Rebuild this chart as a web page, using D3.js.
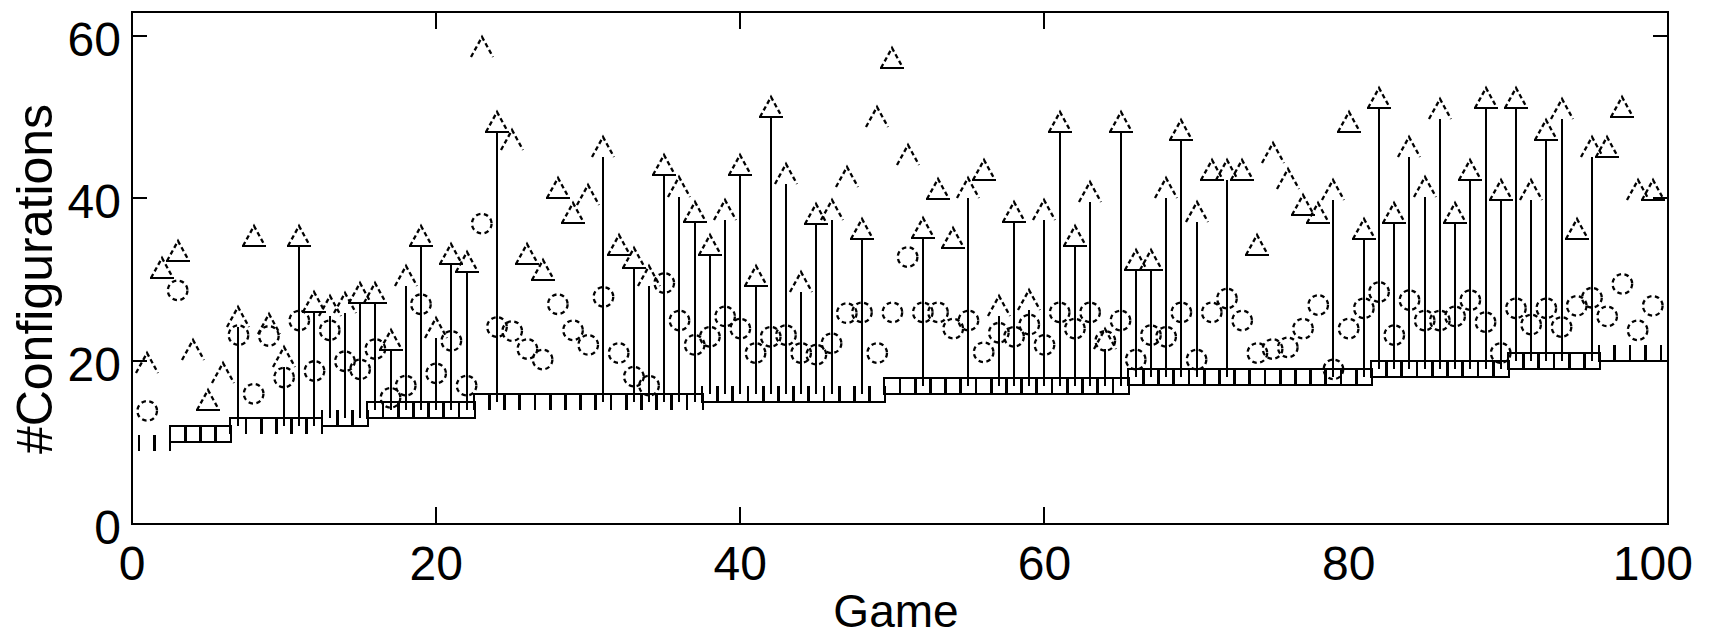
<!DOCTYPE html>
<html><head><meta charset="utf-8">
<script src="https://cdn.jsdelivr.net/npm/d3@7"></script>
<style>body{margin:0;background:#fff}svg{display:block}</style>
</head><body>
<svg id="chart" width="1711" height="637"></svg>
<script>
// ---------------- data ----------------
const games = d3.range(1, 101);

// maximum #configurations per game (triangle level)
const maxVals = [
 18.5,30.2,32.3,20.1,14.0,17.3,24.2,34.1,23.3,19.3,
 34.1,26.1,25.5,25.9,27.1,27.1,21.4,29.2,34.1,22.8,
 32.0,31.0,57.4,48.2,46.0,32.0,30.0,40.0,37.0,39.2,
 45.1,33.0,31.4,29.2,42.9,40.2,37.1,33.0,37.3,42.9,
 29.2,50.0,41.8,28.5,36.9,37.3,41.4,35.0,48.8,56.0,
 44.1,35.1,39.9,33.9,40.0,42.3,25.5,37.1,26.3,37.3,
 48.2,34.1,39.6,21.5,48.2,31.2,31.2,40.0,47.2,37.1,
 42.3,42.3,42.3,33.0,44.3,41.2,38.0,37.0,39.8,48.2,
 35.0,51.1,37.0,45.1,40.2,49.8,37.0,42.3,51.1,39.8,
 51.1,39.8,47.2,49.8,35.0,45.1,45.1,50.0,39.8,39.8];

// series membership of the maximum marker: 1 = series A (closed), 0 = series B (open)
const maxSeriesA = [
 0,1,1,0,1,0,0,1,0,0, 1,1,0,0,1,1,1,0,1,0,
 1,1,0,1,0,1,1,1,1,0, 0,1,1,0,1,0,1,1,0,1,
 1,1,0,0,1,0,0,1,0,1, 0,1,1,1,0,1,0,1,0,0,
 1,1,0,0,1,1,1,0,1,0, 1,0,1,1,0,0,1,1,0,1,
 1,1,1,0,0,0,1,1,1,1, 1,0,1,0,1,0,1,1,0,1];

// whether the range (min -> max) is shown for that game
const hasRange = [
 0,0,0,0,0,0,1,0,0,1, 1,1,1,1,1,1,1,1,1,1,
 1,1,0,1,0,0,0,0,0,0, 1,0,1,1,1,1,1,1,1,1,
 1,1,1,1,1,1,0,1,0,0, 0,1,0,0,1,0,1,1,1,1,
 1,1,1,1,1,1,1,1,1,1, 0,1,0,0,0,0,0,0,1,0,
 1,1,1,1,1,1,1,1,1,1, 1,1,1,1,0,1,0,0,0,0];

// mean #configurations per game (circle), null = not visible
const meanVals = [
 13.9,null,28.7,null,null,null,23.2,16.0,23.1,18.0,
 25.0,18.8,23.8,20.0,19.0,21.5,15.5,17.0,27.0,18.5,
 22.5,17.0,36.9,24.2,23.7,21.5,20.2,27.0,23.8,22.0,
 27.9,21.0,18.1,17.0,29.6,25.0,22.0,23.0,25.5,24.0,
 21.0,23.0,23.2,21.0,20.8,22.2,25.9,26.0,21.0,26.0,
 32.8,26.0,26.0,24.0,25.0,21.1,23.5,23.0,24.5,22.0,
 26.0,24.0,26.0,22.5,25.0,20.2,23.2,23.0,26.0,20.2,
 26.0,27.7,25.0,21.0,21.5,21.7,24.0,26.9,19.0,24.0,
 26.5,28.5,23.2,27.5,25.0,25.0,25.5,27.5,24.8,21.0,
 26.5,24.5,26.5,24.2,26.8,27.8,25.5,29.5,23.8,26.8];

// minimum #configurations per game (square level)
const minVals = [
 10,10,11,11,11,11,12,12,12,12,
 12,12,13,13,13,14,14,14,14,14,
 14,14,15,15,15,15,15,15,15,15,
 15,15,15,15,15,15,15,16,16,16,
 16,16,16,16,16,16,16,16,16,17,
 17,17,17,17,17,17,17,17,17,17,
 17,17,17,17,17,18,18,18,18,18,
 18,18,18,18,18,18,18,18,18,18,
 18,19,19,19,19,19,19,19,19,19,
 20,20,20,20,20,20,21,21,21,21];

// which part of the minimum marker outline is visible
// b = whole, n = open below, u = open above, i = sides only
const minKind = [
 'i','i','b','b','b','b','n','n','n','n',
 'n','n','u','u','u','b','b','b','b','b',
 'b','b','n','n','n','n','n','n','n','n',
 'n','n','n','n','n','n','n','u','u','u',
 'u','u','u','u','u','u','u','u','u','b',
 'b','b','b','b','b','b','b','b','b','b',
 'b','b','b','b','b','b','b','b','b','b',
 'b','b','b','b','b','b','b','b','b','b',
 'b','b','b','b','b','b','b','b','b','b',
 'b','b','b','b','b','b','u','u','u','u'];

const xTickLabels = [0, 20, 40, 60, 80, 100];
const xTickMarks = [20, 40, 60];
const yTickLabels = [0, 20, 40, 60];
const yTickMarks = [20, 40, 60];

// ---------------- drawing ----------------
const svg = d3.select('#chart');
const L = 132, R = 1668, T = 12, B = 524;
const x = d3.scaleLinear().domain([0, 101]).range([L, R]);
const y = d3.scaleLinear().domain([0, 62.9]).range([B, T]);
const px = v => Math.round(x(v));
const py = v => Math.round(y(v));

const rows = games.map((g, i) => ({
  g, max: maxVals[i], a: maxSeriesA[i], bar: hasRange[i],
  mean: meanVals[i], min: minVals[i], kind: minKind[i]
}));

const plot = svg.append('g');
const H = 8; // half size of square marker

function sqPath(cx, cy, k) {
  const l = cx - H, r = cx + H, t = cy - H, b = cy + H;
  if (k === 'b') return `M${l},${t}H${r}V${b}H${l}Z`;
  if (k === 'n') return `M${l},${b}V${t}H${r}V${b}`;
  if (k === 'u') return `M${l},${t}V${b}H${r}V${t}`;
  return `M${l},${t}V${b}M${r},${t}V${b}`;
}

// min markers
plot.append('g').selectAll('path').data(rows).join('path')
  .attr('d', d => sqPath(px(d.g), py(d.min), d.kind))
  .attr('fill', 'none').attr('stroke', '#000').attr('stroke-width', 2)
  .attr('shape-rendering', 'crispEdges');

// range lines
plot.append('g').selectAll('line').data(rows.filter(d => d.bar)).join('line')
  .attr('x1', d => px(d.g)).attr('x2', d => px(d.g))
  .attr('y1', d => py(d.min)).attr('y2', d => py(d.max))
  .attr('stroke', '#000').attr('stroke-width', 2)
  .attr('shape-rendering', 'crispEdges');

// mean markers
plot.append('g').selectAll('circle').data(rows.filter(d => d.mean != null)).join('circle')
  .attr('cx', d => x(d.g)).attr('cy', d => y(d.mean)).attr('r', 9.8)
  .attr('fill', 'none').attr('stroke', '#000').attr('stroke-width', 2.3)
  .attr('stroke-dasharray', '4.5 3.5');

// max markers: dashed sides
const TW = 11, TH = 20;
plot.append('g').selectAll('path').data(rows).join('path')
  .attr('d', d => {
    const cx = px(d.g), by = py(d.max);
    return `M${cx - TW},${by}L${cx},${by - TH}L${cx + TW},${by}`;
  })
  .attr('fill', 'none').attr('stroke', '#000').attr('stroke-width', 2.3)
  .attr('stroke-dasharray', '4.5 3');
// closed base for series A
plot.append('g').selectAll('line').data(rows.filter(d => d.a)).join('line')
  .attr('x1', d => px(d.g) - TW - 1).attr('x2', d => px(d.g) + TW + 1)
  .attr('y1', d => py(d.max)).attr('y2', d => py(d.max))
  .attr('stroke', '#000').attr('stroke-width', 2)
  .attr('shape-rendering', 'crispEdges');

// ---------------- axes ----------------
const ax = svg.append('g').attr('stroke', '#000').attr('stroke-width', 2)
  .attr('shape-rendering', 'crispEdges');
ax.append('rect').attr('x', L).attr('y', T).attr('width', R - L).attr('height', B - T)
  .attr('fill', 'none');
ax.selectAll('line.xb').data(xTickMarks).join('line').attr('class', 'xb')
  .attr('x1', d => px(d)).attr('x2', d => px(d)).attr('y1', B).attr('y2', B - 17);
ax.selectAll('line.xt').data(xTickMarks).join('line').attr('class', 'xt')
  .attr('x1', d => px(d)).attr('x2', d => px(d)).attr('y1', T).attr('y2', T + 17);
ax.selectAll('line.yl').data(yTickMarks).join('line').attr('class', 'yl')
  .attr('x1', L).attr('x2', L + 15).attr('y1', d => py(d)).attr('y2', d => py(d));
ax.selectAll('line.yr').data(yTickMarks).join('line').attr('class', 'yr')
  .attr('x1', R).attr('x2', R - 15).attr('y1', d => py(d)).attr('y2', d => py(d));

const font = '"Liberation Sans", Arial, Helvetica, sans-serif';
const tx = svg.append('g').attr('font-family', font).attr('font-size', 48).attr('fill', '#000');
tx.selectAll('text.xl').data(xTickLabels).join('text').attr('class', 'xl')
  .attr('x', d => x(d)).attr('y', 580).attr('text-anchor', 'middle').text(d => d);
tx.selectAll('text.yl').data(yTickLabels).join('text').attr('class', 'yl')
  .attr('x', 121).attr('y', d => y(d) + 20).attr('text-anchor', 'end').text(d => d);
tx.append('text').attr('x', 896).attr('y', 627).attr('font-size', 46)
  .attr('text-anchor', 'middle').text('Game');
tx.append('text').attr('transform', 'translate(52,279) rotate(-90)')
  .attr('font-size', 50).attr('text-anchor', 'middle').text('#Configurations');
</script>
</body></html>
